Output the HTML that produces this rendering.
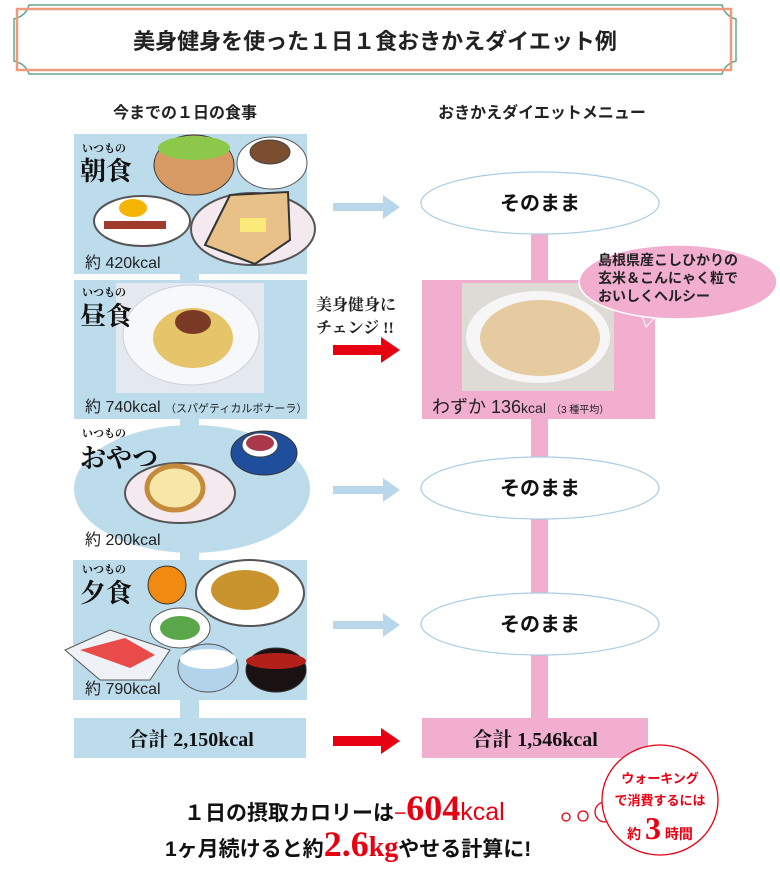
<!DOCTYPE html>
<html><head><meta charset="utf-8"><style>
html,body{margin:0;padding:0;background:#fff}
svg{display:block}
text{font-family:"Liberation Sans","Noto Sans CJK JP",sans-serif}
.m{font-family:"Liberation Serif","Noto Serif CJK SC",serif;font-weight:bold}
</style></head><body>
<svg width="780" height="889" viewBox="0 0 780 889" xmlns="http://www.w3.org/2000/svg">
<!-- title frame -->
<path d="M29,5 H722 Q725,16 736,19 V61 Q725,64 722,74 H29 Q26,64 14,61 V19 Q26,16 29,5Z" fill="none" stroke="#6aa58a" stroke-width="1.5"/>
<rect x="17" y="9" width="714" height="61" fill="none" stroke="#ee9a7c" stroke-width="2.5"/>
<text x="375" y="49" text-anchor="middle" font-size="22" font-weight="bold" fill="#222">美身健身を使った１日１食おきかえダイエット例</text>
<text x="185" y="118" text-anchor="middle" font-size="16" font-weight="bold" fill="#222">今までの１日の食事</text>
<text x="542" y="118" text-anchor="middle" font-size="16" font-weight="bold" fill="#222">おきかえダイエットメニュー</text>

<!-- blue column -->
<g fill="#bcdcec">
<rect x="180" y="270" width="19" height="460"/>
<rect x="74" y="134" width="233" height="140"/>
<rect x="74" y="280" width="233" height="139"/>
<ellipse cx="192" cy="489" rx="118" ry="64"/>
<rect x="73" y="560" width="234" height="140"/>
<rect x="74" y="718" width="232" height="40"/>
</g>
<g fill="#fff"><rect x="74" y="274" width="106" height="6"/><rect x="199" y="274" width="108" height="6"/>
<rect x="74" y="419" width="106" height="6"/><rect x="199" y="419" width="108" height="6"/>
<rect x="74" y="553" width="106" height="7"/><rect x="199" y="553" width="108" height="7"/>
<rect x="74" y="700" width="106" height="18"/><rect x="199" y="700" width="108" height="18"/></g>

<!-- breakfast -->
<text x="82" y="152" font-size="11" class="m" fill="#111">いつもの</text>
<text x="80" y="180" font-size="26" class="m" fill="#111">朝食</text>
<ellipse cx="194" cy="165" rx="40" ry="30" fill="#d79a62" stroke="#333"/>
<ellipse cx="194" cy="148" rx="36" ry="12" fill="#8cc84a"/>
<ellipse cx="272" cy="163" rx="35" ry="26" fill="#fff" stroke="#555"/>
<ellipse cx="270" cy="152" rx="20" ry="12" fill="#7a4e2e" stroke="#444"/>
<ellipse cx="142" cy="221" rx="48" ry="25" fill="#fff" stroke="#555" stroke-width="2"/>
<ellipse cx="133" cy="208" rx="14" ry="9" fill="#f5b400"/>
<rect x="104" y="221" width="62" height="8" fill="#a03a2a"/>
<ellipse cx="253" cy="229" rx="62" ry="36" fill="#f3e9ee" stroke="#555" stroke-width="2"/>
<path d="M205,245 L230,195 L288,192 L290,240 L255,264 Z" fill="#e8c188" stroke="#333" stroke-width="2"/>
<rect x="240" y="218" width="26" height="14" fill="#fbe97a"/>
<text x="85" y="268" font-size="16" fill="#222">約 420kcal</text>

<!-- lunch -->
<rect x="116" y="283" width="148" height="110" fill="#e4e8ef"/>
<ellipse cx="191" cy="335" rx="68" ry="50" fill="#f6f8fb" stroke="#cbd2dc"/>
<ellipse cx="193" cy="338" rx="40" ry="30" fill="#e5c46a"/>
<ellipse cx="193" cy="322" rx="18" ry="12" fill="#7a3a26"/>
<text x="82" y="296" font-size="11" class="m" fill="#111">いつもの</text>
<text x="80" y="325" font-size="26" class="m" fill="#111">昼食</text>
<text x="85" y="412" font-size="16" fill="#222">約 740kcal <tspan font-size="11">（スパゲティカルボナーラ）</tspan></text>

<!-- snack -->
<text x="82" y="437" font-size="11" class="m" fill="#111">いつもの</text>
<text x="80" y="467" font-size="26" class="m" fill="#111">おやつ</text>
<ellipse cx="264" cy="453" rx="33" ry="22" fill="#1f4f9c" stroke="#333"/>
<ellipse cx="260" cy="445" rx="18" ry="12" fill="#fff" stroke="#444"/>
<ellipse cx="260" cy="443" rx="14" ry="8" fill="#a9384a"/>
<ellipse cx="180" cy="493" rx="55" ry="30" fill="#f3e9ee" stroke="#555" stroke-width="2"/>
<ellipse cx="175" cy="488" rx="28" ry="22" fill="#f7e7a6" stroke="#c58b3c" stroke-width="5"/>
<text x="85" y="545" font-size="16" fill="#222">約 200kcal</text>

<!-- dinner -->
<text x="82" y="573" font-size="11" class="m" fill="#111">いつもの</text>
<text x="80" y="602" font-size="26" class="m" fill="#111">夕食</text>
<circle cx="167" cy="585" r="19" fill="#f08a10" stroke="#333"/>
<ellipse cx="250" cy="593" rx="54" ry="33" fill="#fff" stroke="#555" stroke-width="2"/>
<ellipse cx="245" cy="590" rx="34" ry="20" fill="#c9932e"/>
<ellipse cx="180" cy="628" rx="30" ry="20" fill="#fff" stroke="#555"/>
<ellipse cx="180" cy="628" rx="20" ry="12" fill="#5aa64a"/>
<path d="M65,650 L110,630 L170,650 L150,680 L100,680Z" fill="#eef2f7" stroke="#555"/>
<path d="M80,650 L125,638 L155,655 L130,668Z" fill="#e94a4a"/>
<ellipse cx="208" cy="668" rx="30" ry="24" fill="#b3d3ea" stroke="#555"/>
<ellipse cx="208" cy="659" rx="28" ry="10" fill="#fff"/>
<ellipse cx="276" cy="670" rx="30" ry="22" fill="#1a1212" stroke="#333"/>
<ellipse cx="276" cy="661" rx="30" ry="8" fill="#b3201a"/>
<text x="85" y="694" font-size="16" fill="#222">約 790kcal</text>

<text x="191" y="746" text-anchor="middle" font-size="20" class="m" fill="#111">合計 2,150kcal</text>

<!-- arrows -->
<g fill="#b8d7ea">
<path d="M333,203 H383 V195 L400,207 L383,219 V211 H333Z"/>
<path d="M333,486 H383 V478 L400,490 L383,502 V494 H333Z"/>
<path d="M333,621 H383 V613 L400,625 L383,637 V629 H333Z"/>
</g>
<g fill="#e60012">
<path d="M333,345 H381 V337 L400,350 L381,363 V355 H333Z"/>
<path d="M333,736 H381 V728 L400,741 L381,754 V746 H333Z"/>
</g>
<text x="316" y="310" font-size="16" class="m" fill="#222">美身健身に</text>
<text x="316" y="333" font-size="16" class="m" fill="#222">チェンジ !!</text>

<!-- pink column -->
<rect x="531" y="230" width="17" height="490" fill="#f2aecf"/>
<rect x="422" y="280" width="233" height="139" fill="#f2aecf"/>
<rect x="462" y="283" width="152" height="108" fill="#dedbd6"/>
<ellipse cx="538" cy="337" rx="72" ry="46" fill="#f6f6f6"/>
<ellipse cx="540" cy="338" rx="60" ry="38" fill="#e6caa0"/>
<text x="432" y="413" font-size="18" fill="#222">わずか 136<tspan font-size="14">kcal</tspan> <tspan font-size="10">（3 種平均）</tspan></text>
<rect x="422" y="718" width="226" height="40" fill="#f2aecf"/>
<text x="535" y="746" text-anchor="middle" font-size="20" class="m" fill="#111">合計 1,546kcal</text>

<g fill="#fff" stroke="#a9cde3" stroke-width="1.2">
<ellipse cx="540" cy="203" rx="119" ry="31"/>
<ellipse cx="540" cy="488" rx="119" ry="31"/>
<ellipse cx="540" cy="624" rx="119" ry="31"/>
</g>
<g font-size="20" class="m" fill="#111" text-anchor="middle">
<text x="540" y="210">そのまま</text>
<text x="540" y="495">そのまま</text>
<text x="540" y="631">そのまま</text>
</g>

<!-- bubble -->
<path d="M640,310 L646,327 L660,312Z" fill="#f2aecf" stroke="#fff"/>
<ellipse cx="678" cy="282" rx="99" ry="37" fill="#f2aecf" stroke="#fff" stroke-width="1.5"/>
<g font-size="14" class="m" fill="#222"><text x="598" y="265">島根県産こしひかりの</text><text x="598" y="283">玄米＆こんにゃく粒で</text><text x="598" y="301">おいしくヘルシー</text></g>

<!-- bottom -->
<text x="184" y="820" font-size="21" font-weight="bold" fill="#111">１日の摂取カロリーは<tspan fill="#e60012" font-weight="normal">−</tspan><tspan fill="#e60012" font-size="36" class="m">604</tspan><tspan fill="#e60012" font-size="25" font-weight="normal">kcal</tspan></text>
<text x="165" y="856" font-size="21" font-weight="bold" fill="#111">1ヶ月続けると約<tspan fill="#e60012" font-size="36" class="m">2.6</tspan><tspan fill="#e60012" font-size="28" class="m">kg</tspan>やせる計算に!</text>
<g fill="#fff" stroke="#e60012" stroke-width="1.3">
<circle cx="566" cy="817" r="4"/><circle cx="583" cy="816" r="5"/>
<circle cx="605" cy="812" r="10"/>
<ellipse cx="660" cy="800" rx="58" ry="55"/>
</g>
<g fill="#e60012" font-weight="bold" text-anchor="middle">
<text x="660" y="783" font-size="13">ウォーキング</text>
<text x="660" y="805" font-size="13">で消費するには</text>
<text x="660" y="839" font-size="14">約 <tspan font-size="32" class="m">3</tspan> 時間</text>
</g>
</svg>
</body></html>
